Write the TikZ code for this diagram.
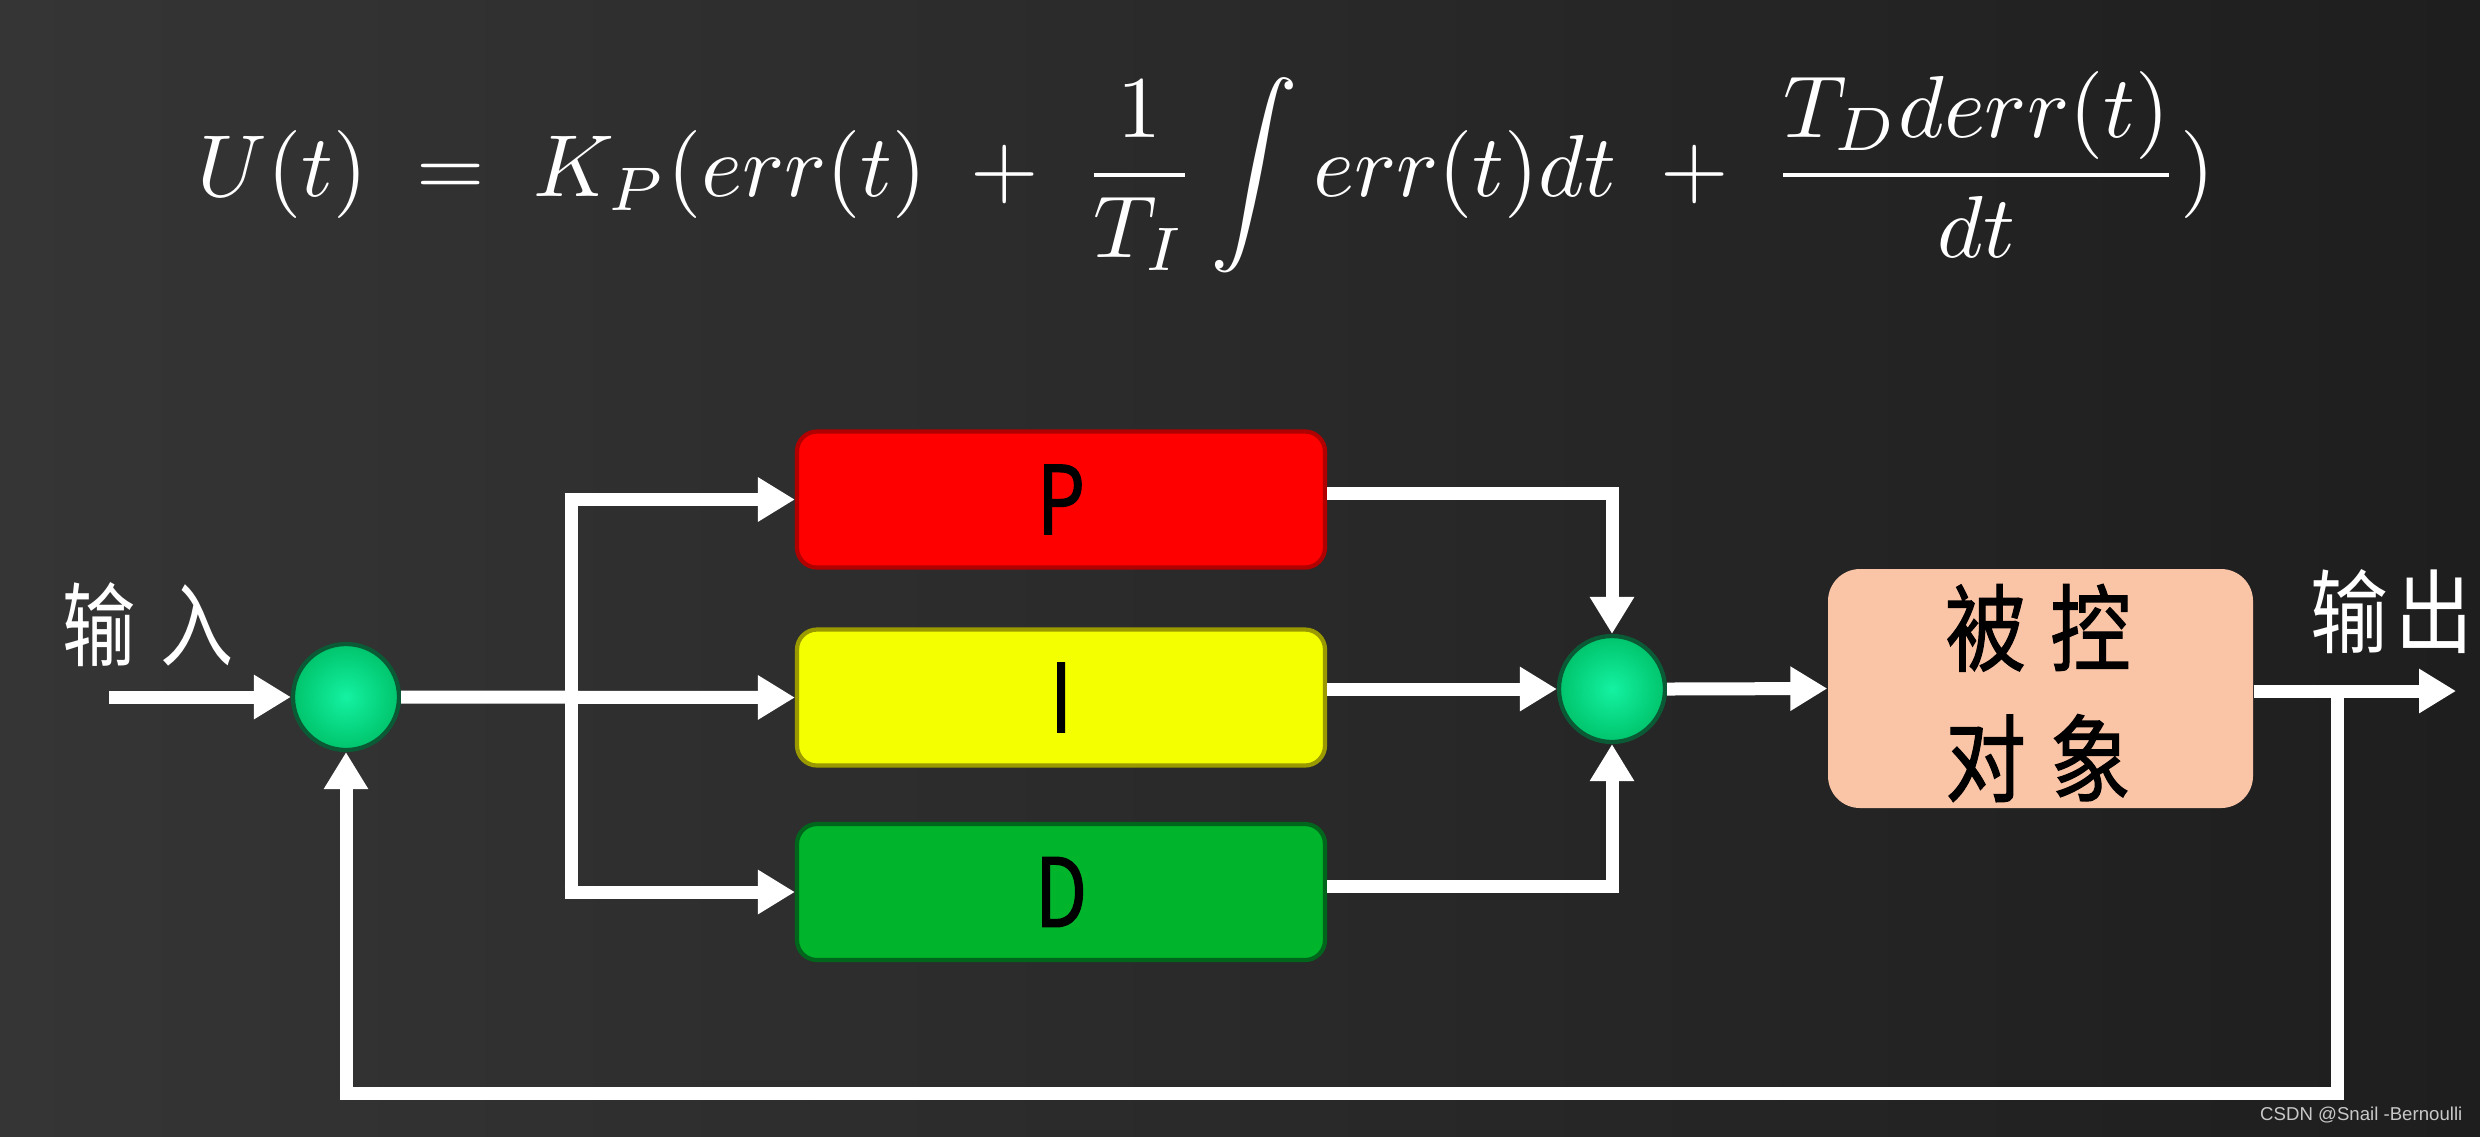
\documentclass[tikz,border=0pt]{standalone}
\usepackage{fontspec}
\usepackage{graphicx}
\newfontfamily\cjk{Noto Sans CJK SC}
\newfontfamily\cjkb{Noto Sans CJK SC}[FakeBold=1.3]
\newfontfamily\wmfont{Liberation Sans}
\usetikzlibrary{arrows.meta,calc}
\definecolor{bgL}{HTML}{353535}
\definecolor{bgM}{HTML}{3A3A3A}
\definecolor{bgR}{HTML}{1E1E1E}
\definecolor{pRed}{HTML}{FE0000}
\definecolor{pRedB}{HTML}{B00000}
\definecolor{iYel}{HTML}{F4FF00}
\definecolor{iYelB}{HTML}{9A9A00}
\definecolor{dGrn}{HTML}{00B42C}
\definecolor{dGrnB}{HTML}{00661C}
\definecolor{plantC}{HTML}{FAC4A6}
\definecolor{sumIn}{HTML}{14F2A2}
\definecolor{sumOut}{HTML}{00C46C}
\definecolor{sumB}{HTML}{0B5A36}
\definecolor{wmC}{HTML}{C8C8C8}
\tikzset{
  arr/.style={draw=white, line width=0.13cm, -{Triangle[length=0.37cm,width=0.42cm]}},
  wire/.style={draw=white, line width=0.13cm},
  ctrlbox/.style={rectangle, rounded corners=0.2cm, line width=1.2pt, minimum width=5.28cm, minimum height=1.36cm, inner sep=0pt},
  sumnode/.style={circle, minimum size=1.06cm, inner sep=0pt, draw=sumB, line width=1.2pt, inner color=sumIn, outer color=sumOut},
  lbl/.style={text=white, inner sep=0pt, font=\cjk\fontsize{26}{30}\selectfont},
  boxtxt/.style={text=black, inner sep=0pt, font=\cjkb\fontsize{27}{30}\selectfont}
}
\begin{document}
\begin{tikzpicture}
\useasboundingbox (0,0) rectangle (24.8,-11.36);
\shade[left color=bgL, middle color=bgM, right color=bgR] (0,0) rectangle (24.8,-11.36);

% equation
\node[text=white, inner sep=0pt] (eq) at (12.06,-1.72)
  {\resizebox{20.16cm}{!}{$\displaystyle U(t)\;=\;K_P(err(t)\;+\;\frac{1}{T_I}\int err(t)dt\;+\;\frac{T_D derr(t)}{dt})$}};

% nodes
\node[sumnode] (s1) at (3.46,-6.97) {};
\node[sumnode] (s2) at (16.12,-6.89) {};
\node[ctrlbox, fill=pRed, draw=pRedB] (P) at (10.61,-4.995) {};
\node[ctrlbox, fill=iYel, draw=iYelB] (I) at (10.61,-6.975) {};
\node[ctrlbox, fill=dGrn, draw=dGrnB] (D) at (10.61,-8.92) {};
\node[boxtxt] (Pt) at (P.center) {\scalebox{0.8}[1]{P}};
\node[boxtxt] (It) at (I.center) {\scalebox{0.8}[1]{I}};
\node[boxtxt] (Dt) at (D.center) {\scalebox{0.8}[1]{D}};
\node[rectangle, rounded corners=0.32cm, fill=plantC, minimum width=4.25cm, minimum height=2.39cm, inner sep=0pt] (plant) at (20.405,-6.885) {};
\node[boxtxt, align=center] (plantt) at (20.38,-6.93) {\scalebox{0.85}[1]{被\hspace{0.3em}控}\\[0.25cm]\scalebox{0.85}[1]{对\hspace{0.3em}象}};

\node[lbl] (inl) at (1.48,-6.25) {\scalebox{0.8}[1]{输\hspace{0.35em}入}};
\node[lbl] (outl) at (23.92,-6.12) {\scalebox{0.85}[1]{输\hspace{0.1em}出}};

% coordinates
\coordinate (in) at (1.09,-6.97);
\coordinate (br) at (5.71,-6.97);
\coordinate (out) at (24.56,-6.91);
\coordinate (fb) at (23.37,-6.91);
\coordinate (low) at (3.46,-10.93);

% connectors
\draw[arr] (in) -- (s1.west);
\draw[arr] (s1.east) -- (I.west);
\draw[wire] (br |- P.west) -- (br |- D.west);
\draw[arr] ($(br |- P.west)+(-0.065,0)$) -- (P.west);
\draw[arr] ($(br |- D.west)+(-0.065,0)$) -- (D.west);
\draw[arr] ($(P.east)+(0,0.06)$) -| (s2.north);
\draw[arr] (I.east |- s2.west) -- (s2.west);
\draw[arr] ($(D.east)+(0,0.06)$) -| (s2.south);
\draw[arr] (s2.east) -- (plant.west);
\draw[arr] (plant.east |- out) -- (out);
\draw[arr] (fb) |- (low) -- (s1.south);

% watermark
\node[text=wmC, inner sep=0pt, anchor=east, font=\wmfont\fontsize{5.3}{6}\selectfont] (wm) at (24.63,-11.15) {CSDN @Snail -Bernoulli};
\end{tikzpicture}
\end{document}
